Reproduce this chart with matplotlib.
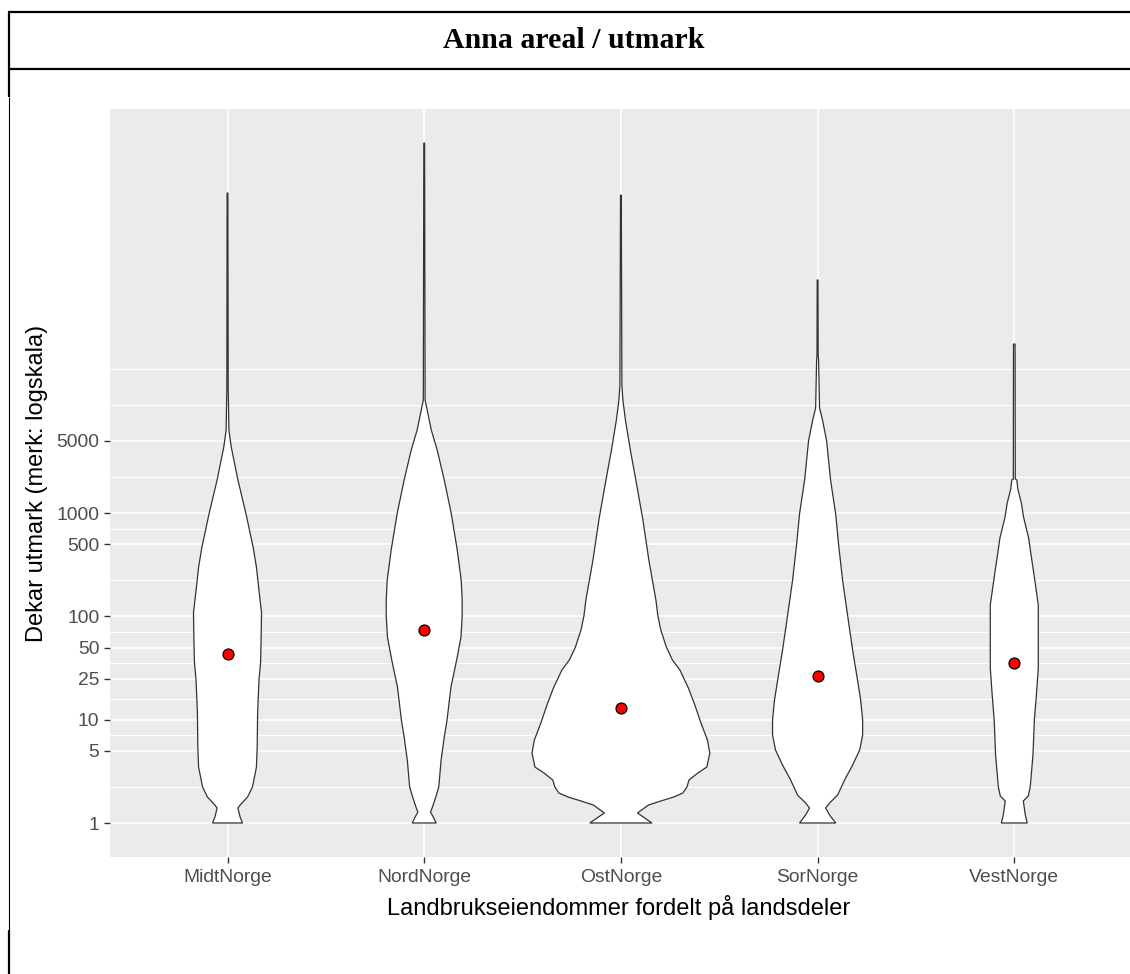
import numpy as np
import matplotlib
matplotlib.use("Agg")
import matplotlib.pyplot as plt
from matplotlib.lines import Line2D

# ---------------- data ----------------
regions = ["MidtNorge", "NordNorge", "OstNorge", "SorNorge", "VestNorge"]
mean_values = [43, 74, 13, 26.5, 35.4]

# violin outlines: log10(dekar) levels and half-widths (in category units)
midt_log = [0.0, 0.058, 0.145, 0.174, 0.252, 0.349, 0.542, 0.736, 1.065, 1.384, 1.549, 1.704,
            2.033, 2.285, 2.478, 2.672, 3.001, 3.320, 3.640, 3.804, 4.095, 4.192, 6.099]
midt_w = [0.076, 0.064, 0.053, 0.064, 0.102, 0.127, 0.147, 0.151, 0.153, 0.160, 0.168, 0.170,
          0.173, 0.158, 0.147, 0.130, 0.093, 0.053, 0.019, 0.007, 0.0045, 0.0035, 0.002]

nord_log = [0.0, 0.058, 0.106, 0.155, 0.252, 0.349, 0.610, 0.833, 0.997, 1.317, 1.578, 1.801,
            2.004, 2.159, 2.352, 2.643, 3.001, 3.320, 3.611, 3.804, 3.998, 4.095, 6.583]
nord_w = [0.061, 0.046, 0.032, 0.042, 0.059, 0.074, 0.086, 0.102, 0.116, 0.136, 0.165, 0.187,
          0.193, 0.193, 0.188, 0.168, 0.137, 0.102, 0.066, 0.036, 0.015, 0.0045, 0.002]

ost_log = [0.0, 0.097, 0.174, 0.213, 0.252, 0.290, 0.349, 0.416, 0.484, 0.542, 0.678, 0.803,
           0.968, 1.142, 1.307, 1.481, 1.578, 1.704, 1.868, 2.004, 2.159, 2.546, 2.933, 3.320,
           3.611, 3.901, 4.095, 4.240, 6.079]
ost_w = [0.158, 0.084, 0.140, 0.203, 0.269, 0.315, 0.336, 0.346, 0.391, 0.437, 0.452, 0.440,
         0.407, 0.376, 0.343, 0.300, 0.262, 0.231, 0.203, 0.188, 0.178, 0.142, 0.112, 0.076,
         0.048, 0.023, 0.010, 0.005, 0.002]

sor_log = [0.0, 0.077, 0.145, 0.194, 0.271, 0.416, 0.561, 0.707, 0.852, 0.997, 1.191, 1.384,
           1.675, 2.004, 2.352, 2.691, 2.991, 3.320, 3.698, 3.901, 4.017, 4.482, 4.530, 5.257]
sor_w = [0.092, 0.061, 0.041, 0.061, 0.102, 0.137, 0.178, 0.214, 0.229, 0.229, 0.219, 0.203,
         0.178, 0.153, 0.127, 0.107, 0.092, 0.066, 0.046, 0.025, 0.010, 0.005, 0.003, 0.002]

vest_log = [0.0, 0.077, 0.213, 0.261, 0.349, 0.658, 0.997, 1.229, 1.500, 2.110, 2.246, 2.420,
            2.585, 2.759, 2.962, 3.098, 3.233, 3.320, 3.330, 4.637]
vest_w = [0.066, 0.056, 0.046, 0.071, 0.081, 0.095, 0.102, 0.112, 0.122, 0.122, 0.112, 0.099,
          0.086, 0.073, 0.047, 0.036, 0.018, 0.013, 0.005, 0.004]

y_breaks = [1, 5, 10, 25, 50, 100, 500, 1000, 5000]

title = "Anna areal / utmark"
x_title = "Landbrukseiendommer fordelt på landsdeler"
y_title = "Dekar utmark (merk: logskala)"

# ---------------- figure ----------------
W, H = 1130, 974
fig = plt.figure(figsize=(W / 100, H / 100), dpi=100)
fig.patch.set_facecolor("white")

def fx(px):
    return px / W

def fy(py):
    return 1 - py / H

ax = fig.add_axes([fx(109.5), fy(857), fx(1132.3 - 109.5), (857 - 109) / H])
ax.set_facecolor("#EBEBEB")
for s in ax.spines.values():
    s.set_visible(False)

profiles = [(midt_log, midt_w), (nord_log, nord_w), (ost_log, ost_w),
            (sor_log, sor_w), (vest_log, vest_w)]

ax.set_yscale("log")
lmax = max(max(p[0]) for p in profiles)
lmin = min(min(p[0]) for p in profiles)
rng = lmax - lmin
ax.set_ylim(10 ** (lmin - 0.05 * rng), 10 ** (lmax + 0.05 * rng))
ax.set_xlim(0.4, len(regions) + 0.6)

# grid lines (ggplot-like major + minor)
lb = np.log10(y_breaks)
bd = lb[1] - lb[0]
ext = np.concatenate([[lb[0] - bd], lb, [lb[-1] + bd]])
minor = []
for a, b in zip(ext[:-1], ext[1:]):
    minor.append((a + b) / 2)
minor.append(ext[-1])
minor = [10 ** m for m in minor if m not in lb]
for m in minor:
    ax.axhline(m, color="white", lw=0.8, zorder=0.5)
for b in y_breaks:
    ax.axhline(b, color="white", lw=1.2, zorder=0.6)
for i in range(1, len(regions) + 1):
    ax.axvline(i, color="white", lw=1.2, zorder=0.6)

# violins
for i, (lg, w) in enumerate(profiles, start=1):
    yv = 10 ** np.array(lg)
    wv = np.array(w)
    xs = np.concatenate([i - wv, (i + wv)[::-1]])
    ys = np.concatenate([yv, yv[::-1]])
    ax.fill(xs, ys, facecolor="white", edgecolor="#333333", lw=0.9, zorder=2,
            joinstyle="miter")

# mean points
ax.scatter(range(1, len(regions) + 1), mean_values, s=62, c="#FF0000",
           edgecolors="black", linewidths=0.9, zorder=5)

ax.set_yticks(y_breaks)
ax.set_yticklabels([str(b) for b in y_breaks])
ax.yaxis.set_minor_locator(matplotlib.ticker.NullLocator())
ax.set_xticks(range(1, len(regions) + 1))
ax.set_xticklabels(regions)
ax.tick_params(axis="both", colors="#333333", length=4.3, width=1.0,
               labelcolor="#4D4D4D", labelsize=13.9)
ax.tick_params(axis="y", pad=3)
ax.tick_params(axis="x", pad=4.5)
for lab in ax.get_xticklabels() + ax.get_yticklabels():
    lab.set_family("Liberation Sans")

# axis titles
fig.text(fx(619), fy(907), x_title, ha="center", va="center",
         fontsize=17, family="Liberation Sans", color="black")
fig.text(fx(37), fy(483), y_title, ha="center", va="center", rotation=90,
         fontsize=17, family="Liberation Sans", color="black")

# plot title (table header)
fig.text(fx(574), fy(40), title, ha="center", va="center", fontsize=21.5,
         family="Liberation Serif", fontweight="bold", color="black")

# frame lines
def hline(y, x0, x1, lw):
    fig.add_artist(Line2D([fx(x0), fx(x1)], [fy(y), fy(y)], color="black", lw=lw,
                          transform=fig.transFigure, solid_capstyle="butt"))

def vline(x, y0, y1, lw):
    fig.add_artist(Line2D([fx(x), fx(x)], [fy(y0), fy(y1)], color="black", lw=lw,
                          transform=fig.transFigure, solid_capstyle="butt"))

hline(11.5, 8, 1130, 1.6)
hline(68.5, 8, 1130, 1.6)
vline(9.3, 10.5, 97, 1.6)
vline(8.8, 97, 930, 0.8)
vline(9.3, 930, 974, 1.6)

fig.savefig("out.png", dpi=100, facecolor="white")
